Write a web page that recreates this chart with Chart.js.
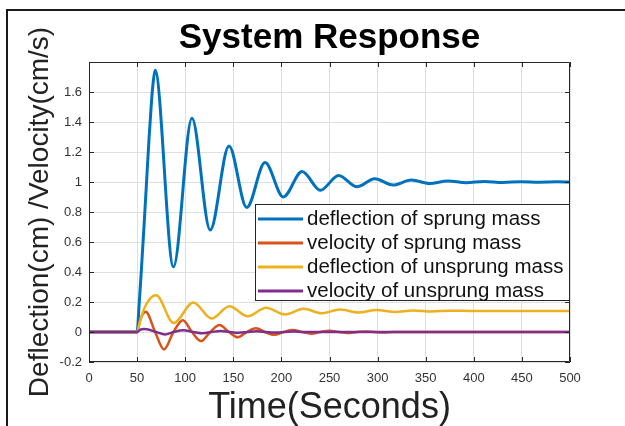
<!DOCTYPE html>
<html>
<head>
<meta charset="utf-8">
<script src="https://cdn.jsdelivr.net/npm/chart.js@4/dist/chart.umd.min.js"></script>
<style>
  html, body { margin: 0; padding: 0; background: #fff; }
  canvas { display: block; }
</style>
</head>
<body>
<canvas id="chart" width="625" height="426"></canvas>
<script>
// Axis ticks
const xTickValues = [0, 50, 100, 150, 200, 250, 300, 350, 400, 450, 500];
const yTickValues = [-0.2, 0, 0.2, 0.4, 0.6, 0.8, 1, 1.2, 1.4, 1.6];
const yTickLabels = ['-0.2', '0', '0.2', '0.4', '0.6', '0.8', '1', '1.2', '1.4', '1.6'];

// Series names
const seriesNames = [
  'deflection of sprung mass',
  'velocity of sprung mass',
  'deflection of unsprung mass',
  'velocity of unsprung mass'
];

// Deflection of sprung mass (cm)
const sprungDeflTime = [0, 50, 52, 54.5, 57.5, 60, 62.5, 65, 67, 68.7, 87.8, 107, 126, 145.5, 164, 183, 202,
  221.5, 240.5, 259.5, 278.5, 297, 316, 335, 354, 373, 392, 411, 430, 449, 468, 487, 500];
const sprungDeflValue = [0, 0, 0.17, 0.42, 0.74, 1.02, 1.3, 1.54, 1.68, 1.745, 0.435, 1.425, 0.68, 1.24, 0.83, 1.13, 0.9,
  1.07, 0.945, 1.043, 0.968, 1.022, 0.98, 1.013, 0.99, 1.007, 0.995, 1.004, 0.997, 1.002, 0.999, 1.001, 1.0];

// Velocity of sprung mass (cm/s)
const sprungVelTime = [0, 50, 53, 56, 59, 68.7, 78, 87.8, 97.5, 107, 116.5, 126, 135.7, 145.5, 154.7, 164, 173.5,
  183, 192.5, 202, 212, 221.5, 231, 240.5, 250, 259.5, 269, 278.5, 288, 297, 306.5, 316, 500];
const sprungVelValue = [0, 0, 0.075, 0.12, 0.135, 0, -0.116, 0, 0.078, 0, -0.06, 0, 0.046, 0, -0.035, 0, 0.025,
  0, -0.019, 0, 0.014, 0, -0.011, 0, 0.008, 0, -0.006, 0, 0.004, 0, -0.003, 0, 0];

// Deflection of unsprung mass (cm)
const unsprungDeflTime = [0, 50, 53, 57, 62, 66, 69.8, 88, 108.5, 127.5, 146, 165, 184, 204, 223, 242, 261, 280,
  299, 318, 337, 356, 375, 400, 500];
const unsprungDeflValue = [0, 0, 0.07, 0.15, 0.21, 0.237, 0.245, 0.06, 0.197, 0.09, 0.172, 0.105, 0.162, 0.117,
  0.155, 0.125, 0.15, 0.13, 0.146, 0.134, 0.144, 0.137, 0.142, 0.14, 0.14];

// Velocity of unsprung mass (cm/s)
const unsprungVelTime = [0, 50, 53, 57, 60, 69.8, 79, 88, 98, 108.5, 118, 127.5, 137, 146, 155.5, 165, 174.5, 184,
  194, 204, 213.5, 223, 500];
const unsprungVelValue = [0, 0, 0.014, 0.02, 0.019, 0, -0.016, 0, 0.011, 0, -0.009, 0, 0.007, 0, -0.0055, 0,
  0.0045, 0, -0.0035, 0, 0.0028, 0, 0];

const lineColors = ['#0072BD', '#D95319', '#EDB120', '#7E2F8E'];
const FONT = "'Liberation Sans', Arial, Helvetica, sans-serif";

const toPoints = (ts, vs) => ts.map((t, i) => ({ x: t, y: vs[i] }));

// White page with the figure frame on top and left
const pageFrame = {
  id: 'pageFrame',
  beforeDraw(chart) {
    const { ctx, width, height } = chart;
    ctx.save();
    ctx.fillStyle = '#ffffff';
    ctx.fillRect(0, 0, width, height);
    ctx.fillStyle = '#1a1a1a';
    ctx.fillRect(6, 9, width - 6, 2);
    ctx.fillRect(6, 9, 2, height - 9);
    ctx.restore();
  }
};

// Axes box with inward tick marks on all four sides
const axesBox = {
  id: 'axesBox',
  afterDatasetsDraw(chart) {
    const { ctx, chartArea: a, scales: { x, y } } = chart;
    const tl = 5;
    ctx.save();
    ctx.strokeStyle = '#262626';
    ctx.lineWidth = 1;
    ctx.beginPath();
    ctx.rect(a.left + 0.5, a.top + 0.5, a.right - a.left - 1, a.bottom - a.top - 1);
    x.ticks.forEach(t => {
      const px = Math.round(x.getPixelForValue(t.value)) + 0.5;
      ctx.moveTo(px, a.bottom); ctx.lineTo(px, a.bottom - tl);
      ctx.moveTo(px, a.top); ctx.lineTo(px, a.top + tl);
    });
    y.ticks.forEach(t => {
      const py = Math.round(y.getPixelForValue(t.value)) + 0.5;
      ctx.moveTo(a.left, py); ctx.lineTo(a.left + tl, py);
      ctx.moveTo(a.right, py); ctx.lineTo(a.right - tl, py);
    });
    ctx.stroke();
    ctx.restore();
  }
};

// Legend box drawn inside the plot area
const insideLegend = {
  id: 'insideLegend',
  afterDatasetsDraw(chart) {
    const { ctx, chartArea: a } = chart;
    const boxW = 314, rowH = 24, boxH = 96;
    const right = a.right - 1, left = right - boxW, top = a.top + 142;
    ctx.save();
    ctx.fillStyle = '#ffffff';
    ctx.fillRect(left, top, boxW, boxH);
    ctx.strokeStyle = '#262626';
    ctx.lineWidth = 1;
    ctx.strokeRect(left + 0.5, top + 0.5, boxW, boxH);
    ctx.font = '20.5px ' + FONT;
    ctx.textBaseline = 'middle';
    ctx.textAlign = 'left';
    chart.data.datasets.forEach((ds, i) => {
      const cy = top + 15 + i * rowH;
      ctx.strokeStyle = ds.borderColor;
      ctx.lineWidth = 3;
      ctx.beginPath();
      ctx.moveTo(left + 3, cy);
      ctx.lineTo(left + 48, cy);
      ctx.stroke();
      ctx.fillStyle = '#111';
      ctx.fillText(ds.label, left + 52, cy);
    });
    ctx.restore();
  }
};

const seriesTimes = [sprungDeflTime, sprungVelTime, unsprungDeflTime, unsprungVelTime];
const seriesValues = [sprungDeflValue, sprungVelValue, unsprungDeflValue, unsprungVelValue];

new Chart(document.getElementById('chart'), {
  type: 'line',
  data: {
    datasets: seriesNames.map((name, i) => ({
      label: name,
      data: toPoints(seriesTimes[i], seriesValues[i]),
      borderColor: lineColors[i],
      backgroundColor: lineColors[i],
      borderWidth: i === 0 ? 3 : 2.5,
      pointRadius: 0,
      fill: false,
      cubicInterpolationMode: 'monotone',
      order: 3 - i
    }))
  },
  options: {
    responsive: false,
    animation: false,
    layout: { padding: { left: 0, right: 55, top: 0, bottom: 0 } },
    plugins: {
      legend: { display: false },
      tooltip: { enabled: false },
      title: {
        display: true,
        text: 'System Response',
        fullSize: false,
        color: '#000',
        font: { family: FONT, size: 35, weight: 'bold' },
        padding: { top: 17, bottom: 3 }
      }
    },
    scales: {
      x: {
        type: 'linear',
        min: 0,
        max: 500,
        afterBuildTicks: s => { s.ticks = xTickValues.map(v => ({ value: v })); },
        afterFit: s => { s.height = 64; },
        grid: { color: '#dfdfdf', drawTicks: false },
        border: { display: false },
        ticks: {
          color: '#333',
          font: { family: FONT, size: 13 },
          padding: 9,
          maxRotation: 0,
          callback: (v, i) => String(xTickValues[i])
        },
        title: {
          display: true,
          text: 'Time(Seconds)',
          color: '#222',
          font: { family: FONT, size: 36 },
          padding: { top: 0, bottom: -4 }
        }
      },
      y: {
        type: 'linear',
        min: -0.2,
        max: 1.8,
        afterBuildTicks: s => { s.ticks = yTickValues.map(v => ({ value: v })); },
        afterFit: s => { s.width = 89; },
        grid: { color: '#dfdfdf', drawTicks: false },
        border: { display: false },
        ticks: {
          color: '#333',
          font: { family: FONT, size: 13 },
          padding: 7,
          callback: (v, i) => yTickLabels[i]
        },
        title: {
          display: true,
          text: 'Deflection(cm) /Velocity(cm/s)',
          color: '#222',
          font: { family: FONT, size: 28 },
          padding: { top: 23, bottom: 0 }
        }
      }
    }
  },
  plugins: [pageFrame, axesBox, insideLegend]
});
</script>
</body>
</html>
